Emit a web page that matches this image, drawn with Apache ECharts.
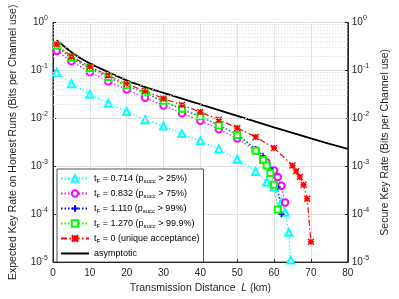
<!DOCTYPE html>
<html><head><meta charset="utf-8">
<script src="https://cdn.jsdelivr.net/npm/echarts@6/dist/echarts.min.js"></script>
<style>html,body{margin:0;padding:0;background:#fff}#c{width:399px;height:299px}</style>
</head><body><div id="c"></div>
<script>
// ---- data ----
const xTicks = [0,10,20,30,40,50,60,70,80];
const yTicks = [1e-5,1e-4,1e-3,1e-2,1e-1,1];

const cyanL   = [1,5,10,15,20,25,30,35,40,45,50,55,58,60,62,63,64,64.5];
const cyanV   = [0.092,0.053,0.032,0.0206,0.0139,0.0094,0.0069,0.0048,0.0034,0.0023,0.0014,0.00078,0.00047,0.00037,0.00018,0.00011,0.000042,0.000011];

const magL    = [1,5,10,15,20,25,30,35,40,45,50,55,58,60,61,62,63];
const magV    = [0.255,0.155,0.092,0.059,0.040,0.027,0.0185,0.0128,0.0089,0.0059,0.0038,0.0021,0.0012,0.00082,0.0006,0.00039,0.000175];

const blueL   = [1,5,10,15,20,25,30,35,40,45,50,55,57,59,61,62];
const blueV   = [0.32,0.18,0.11,0.072,0.048,0.034,0.0225,0.0155,0.0108,0.0072,0.0046,0.0023,0.00165,0.0009,0.00037,0.0001];

const greenL  = [1,5,10,15,20,25,30,35,40,45,50,55,57,58,59,60,61];
const greenV  = [0.33,0.185,0.112,0.073,0.049,0.035,0.023,0.0158,0.011,0.0071,0.0045,0.0021,0.00135,0.00104,0.00072,0.00041,0.000125];

const redL    = [1,5,10,15,20,25,30,35,40,45,50,55,60,65,66,67,68,69,70];
const redV    = [0.35,0.195,0.12,0.078,0.053,0.037,0.026,0.019,0.0135,0.0094,0.0063,0.0041,0.0024,0.00104,0.00079,0.0006,0.00041,0.00021,0.0000265];

const asymL   = [1,2,3,5,7.5,10,15,20,25,30,40,50,60,70,80];
const asymV   = [0.43,0.37,0.32,0.24,0.18,0.14,0.092,0.062,0.045,0.034,0.0195,0.0112,0.0065,0.0038,0.0023];

const names = [
  't_F = 0.714 (p_succ > 25%)',
  't_F = 0.832 (p_succ > 75%)',
  't_F = 1.110 (p_succ > 99%)',
  't_F = 1.270 (p_succ > 99.9%)',
  't_F = 0 (unique acceptance)',
  'asymptotic'
];
const richNames = [
  '{n|t}{s|F}{n| = 0.714 (p}{s|succ}{n| > 25%)}',
  '{n|t}{s|F}{n| = 0.832 (p}{s|succ}{n| > 75%)}',
  '{n|t}{s|F}{n| = 1.110 (p}{s|succ}{n| > 99%)}',
  '{n|t}{s|F}{n| = 1.270 (p}{s|succ}{n| > 99.9%)}',
  '{n|t}{s|F}{n| = 0 (unique acceptance)}',
  '{n|asymptotic}'
];
const leftName = 'Expected Key Rate on Honest Runs (Bits per Channel use)';
const rightName = 'Secure Key Rate (Bits per Channel use)';

// minor grid values (2..9 x 10^k)
const minorVals = [];
for (let k = -5; k < 0; k++) for (let m = 2; m <= 9; m++) minorVals.push(m * Math.pow(10, k));

const FONT = 'Liberation Sans, Arial, Helvetica, sans-serif';
const zip = (a, b) => a.map((x, i) => [x, b[i]]);

const plusPath = 'path://M5,0L5,10M0,5L10,5';
const starPath = 'path://M0,0L10,10M10,0L0,10M5,0L5,10M0,5L10,5';

const yLabel = {
  fontFamily: FONT, color: '#262626',
  formatter: v => { const e = Math.round(Math.log10(v)); return '{b|10}{e|' + e + '}'; },
  rich: { b: {fontSize: 10, fontFamily: FONT, color:'#262626'}, e: {fontSize: 7, fontFamily: FONT, color:'#262626', padding: [0,0,8,0]} }
};

const chart = echarts.init(document.getElementById('c'));
chart.setOption({
  animation: false,
  backgroundColor: '#fff',
  grid: { left: 51.5, right: 39, top: 22.5, bottom: 32.5, show: true, borderColor: '#262626', borderWidth: 1, backgroundColor: 'transparent' },
  legend: {
    orient: 'vertical', left: 57, top: 169,
    data: names.slice(0, 5).concat([{ name: names[5], icon: 'path://M0,0H28V2H0Z' }]),
    backgroundColor: '#fff', borderColor: '#262626', borderWidth: 0.8, borderRadius: 0,
    padding: [5, 4, 4, 3], itemGap: 5, itemWidth: 28, itemHeight: 8,
    textStyle: { fontFamily: FONT, fontSize: 9, color: '#000',
      rich: { n: {fontSize: 9, fontFamily: FONT, color:'#000'}, s: {fontSize: 6, fontFamily: FONT, color:'#000', padding: [5,0,0,0]} } },
    formatter: name => richNames[names.indexOf(name)]
  },
  xAxis: {
    type: 'value', min: 0, max: 80, interval: 10,
    name: '{a|Transmission Distance  }{i|L}{a| (km)}', nameLocation: 'middle', nameGap: 19,
    nameTextStyle: { rich: { a: {fontSize: 10.5, fontFamily: FONT, color:'#262626'}, i: {fontSize: 10.5, fontFamily: FONT, fontStyle:'italic', color:'#262626'} } },
    axisLine: { show: true, lineStyle: { color: '#262626', width: 1 } },
    axisTick: { inside: true, length: 3, lineStyle: { color: '#262626' } },
    axisLabel: { fontFamily: FONT, fontSize: 10, color: '#262626', margin: 6 },
    splitLine: { show: true, lineStyle: { color: '#e3e3e3', width: 1 } }
  },
  yAxis: [{
    type: 'log', logBase: 10, min: 1e-5, max: 1, position: 'left',
    name: leftName, nameLocation: 'middle', nameRotate: 90, nameGap: 34,
    nameTextStyle: { fontFamily: FONT, fontSize: 10.5, color: '#262626' },
    axisLine: { show: true, lineStyle: { color: '#262626' } },
    axisTick: { inside: true, length: 3, lineStyle: { color: '#262626' } },
    axisLabel: Object.assign({ margin: 5 }, yLabel),
    splitLine: { show: true, lineStyle: { color: '#e3e3e3', width: 1 } }
  }, {
    type: 'log', logBase: 10, min: 1e-5, max: 1, position: 'right',
    name: rightName, nameLocation: 'middle', nameRotate: 90, nameGap: 27,
    nameTextStyle: { fontFamily: FONT, fontSize: 10.5, color: '#262626' },
    axisLine: { show: true, lineStyle: { color: '#262626' } },
    axisTick: { inside: true, length: 3, lineStyle: { color: '#262626' } },
    axisLabel: Object.assign({ margin: 4 }, yLabel),
    splitLine: { show: false }
  }],
  series: [
    { name: '_grid', type: 'line', data: [], silent: true,
      markLine: { silent: true, symbol: 'none', label: { show: false },
        lineStyle: { color: '#d9d9d9', type: [1.5, 1.5], width: 0.8 },
        data: minorVals.map(v => ({ yAxis: v })) } },
    { name: names[0], type: 'line', data: zip(cyanL, cyanV), color: '#00ffff',
      symbol: 'emptyTriangle', symbolSize: 7,
      lineStyle: { color: '#00ffff', width: 1.2, type: [1.5, 2] },
      itemStyle: { color: '#00ffff', borderColor: '#00ffff', borderWidth: 1.3 } },
    { name: names[1], type: 'line', data: zip(magL, magV), color: '#ff00ff',
      symbol: 'emptyCircle', symbolSize: 6.5,
      lineStyle: { color: '#ff00ff', width: 1.2, type: [1.5, 2] },
      itemStyle: { color: '#ff00ff', borderColor: '#ff00ff', borderWidth: 1.4 } },
    { name: names[2], type: 'line', data: zip(blueL, blueV), color: '#0000ff',
      symbol: plusPath, symbolSize: 6,
      lineStyle: { color: '#0000ff', width: 1.2, type: [1.5, 2] },
      itemStyle: { color: '#0000ff', borderColor: '#0000ff', borderWidth: 1.4 } },
    { name: names[3], type: 'line', data: zip(greenL, greenV), color: '#00ff00',
      symbol: 'emptyRect', symbolSize: 6,
      lineStyle: { color: '#00ff00', width: 1.2, type: [1.5, 2] },
      itemStyle: { color: '#00ff00', borderColor: '#00ff00', borderWidth: 1.3 } },
    { name: names[4], type: 'line', data: zip(redL, redV), color: '#ff0000',
      symbol: starPath, symbolSize: 6,
      lineStyle: { color: '#ff0000', width: 1.2, type: [6, 2.5, 1.5, 2.5] },
      itemStyle: { color: '#ff0000', borderColor: '#ff0000', borderWidth: 1.4 } },
    { name: names[5], type: 'line', data: zip(asymL, asymV), color: '#000',
      symbol: 'none', smooth: 0.3,
      lineStyle: { color: '#000', width: 1.8 } }
  ]
});
</script></body></html>
